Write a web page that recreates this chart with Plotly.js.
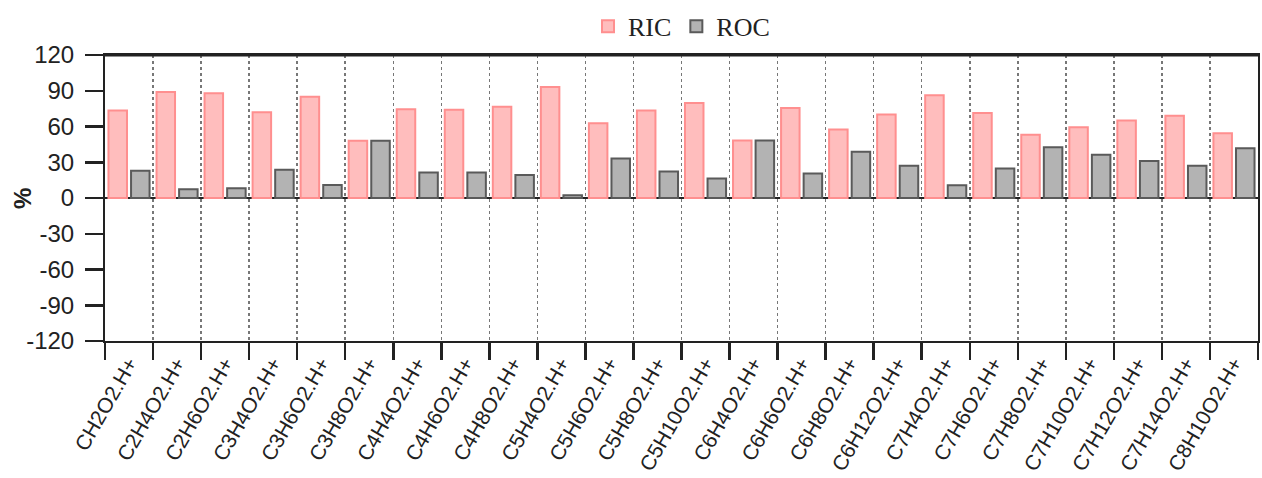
<!DOCTYPE html>
<html>
<head>
<meta charset="utf-8">
<script src="https://cdn.plot.ly/plotly-3.0.1.min.js"></script>
<style>html,body{margin:0;padding:0;background:#fff;}#chart{width:1262px;height:478px;}</style>
</head>
<body>
<div id="chart"></div>
<script>
const categories = ["CH2O2.H+","C2H4O2.H+","C2H6O2.H+","C3H4O2.H+","C3H6O2.H+","C3H8O2.H+","C4H4O2.H+","C4H6O2.H+","C4H8O2.H+","C5H4O2.H+","C5H6O2.H+","C5H8O2.H+","C5H10O2.H+","C6H4O2.H+","C6H6O2.H+","C6H8O2.H+","C6H12O2.H+","C7H4O2.H+","C7H6O2.H+","C7H8O2.H+","C7H10O2.H+","C7H12O2.H+","C7H14O2.H+","C8H10O2.H+"];
const ricValues = [73.5,89,88,72,85,48,74.4,74,76.5,93.2,62.8,73.5,79.7,48.2,75.5,57.5,70,86.2,71.3,53,59.4,65,69,54.4];
const rocValues = [22.8,7.3,8.2,23.7,11,48,21.4,21.4,19.4,2.3,33.2,22.2,16.3,48.2,20.6,38.9,27,10.7,24.8,42.5,36.3,31,27,41.7];
const yTicks = [-120,-90,-60,-30,0,30,60,90,120];

const traces = [
  {type:'bar', name:'RIC', x:categories, y:ricValues,
   marker:{color:'#ffbdbd', line:{color:'#ff8f8f', width:2}}},
  {type:'bar', name:'ROC', x:categories, y:rocValues,
   marker:{color:'#b3b3b3', line:{color:'#5a5a5a', width:2}}}
];

const layout = {
  width:1262, height:478,
  margin:{l:105, r:4, t:54, b:137},
  paper_bgcolor:'#fff', plot_bgcolor:'#fff',
  barmode:'group', bargap:0.06, bargroupgap:0.18,
  font:{family:'Liberation Sans, Arial, sans-serif', color:'#222'},
  showlegend:true,
  legend:{orientation:'h', x:0.5, xanchor:'center', y:1.096, yanchor:'middle',
          font:{family:'Liberation Serif, Times New Roman, serif', size:26, color:'#222'},
          itemsizing:'constant'},
  xaxis:{
    type:'category', tickson:'boundaries', ticks:'outside', ticklen:17, tickwidth:2.5, tickcolor:'#222',
    showline:true, linecolor:'#222', linewidth:2, mirror:true,
    showgrid:true, gridcolor:'#777', griddash:'dot', gridwidth:1.5,
    tickangle:-60, tickfont:{size:21, color:'#222'}, automargin:false
  },
  yaxis:{
    range:[-120,120], tickvals:yTicks, ticktext:yTicks.map(String),
    ticks:'outside', ticklen:18, tickwidth:2.5, tickcolor:'#222',
    showline:true, linecolor:'#222', linewidth:2, mirror:true,
    showgrid:false, zeroline:true, zerolinecolor:'#222', zerolinewidth:2,
    tickfont:{size:24, color:'#222'}, ticklabelstandoff:6, automargin:false
  },
  shapes:[{type:'line', xref:'paper', yref:'paper', x0:0, x1:1, y0:1, y1:1, line:{color:'#222', width:3}}],
  annotations:[{text:'%', xref:'paper', yref:'paper', x:-0.072, y:0.5, xanchor:'center', yanchor:'middle',
    textangle:-90, showarrow:false, font:{size:24, color:'#222', family:'Liberation Sans, Arial, sans-serif', weight:'bold'}}]
};

Plotly.newPlot('chart', traces, layout, {displayModeBar:false, staticPlot:true});
</script>
</body>
</html>
